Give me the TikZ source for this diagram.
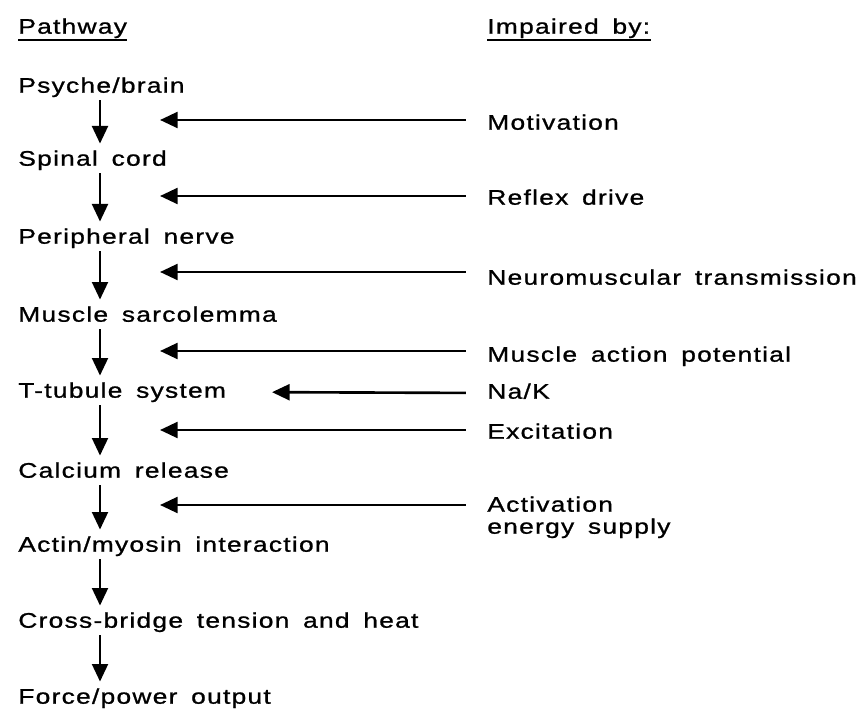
\documentclass[tikz,border=0pt]{standalone}
\usepackage{fontspec}
\setmainfont{Liberation Sans}[FakeStretch=1.25, LetterSpace=6, WordSpace=1.6, FakeBold=1]
\usetikzlibrary{arrows.meta}
\begin{document}
\begin{tikzpicture}[x=0.02cm, y=-0.02cm]
\tikzstyle{every node}=[anchor=west, inner sep=0pt, text height=9pt, text depth=2.5pt, font=\fontsize{12}{14}\selectfont]
\tikzstyle{flow}=[line width=1.5pt, -{Triangle[length=10pt, width=9pt]}]
\useasboundingbox (0,0) rectangle (859,709);
% headings
\node (PW) at (18, 28) {Pathway};
\node (IB) at (487, 28) {Impaired by:};
\draw [line width=1.2pt] ([yshift=-0.8pt]PW.south west) -- ([yshift=-0.8pt]PW.south east);
\draw [line width=1.2pt] ([yshift=-0.8pt]IB.south west) -- ([yshift=-0.8pt]IB.south east);
% pathway
\node (PB) at (18, 87) {Psyche/brain};
\node (SC) at (18, 160) {Spinal cord};
\node (PN) at (18, 238) {Peripheral nerve};
\node (MS) at (18, 316) {Muscle sarcolemma};
\node (TT) at (18, 392) {T-tubule system};
\node (CR) at (18, 472) {Calcium release};
\node (AM) at (18, 546) {Actin/myosin interaction};
\node (CB) at (18, 622) {Cross-bridge tension and heat};
\node (FP) at (18, 698) {Force/power output};
% impairments
\node (MO) at (487, 124) {Motivation};
\node (RD) at (487, 199) {Reflex drive};
\node (NT) at (487, 279) {Neuromuscular transmission};
\node (AP) at (487, 356) {Muscle action potential};
\node (NK) at (487, 393) {Na/K};
\node (EX) at (487, 433) {Excitation};
\node (AC) at (487, 506) {Activation};
\node (ES) at (487, 528) {energy supply};
% arrow ends
\coordinate (ax) at (100, 0);
\coordinate (t1) at (160, 120);
\coordinate (t2) at (160, 196);
\coordinate (t3) at (160, 272);
\coordinate (t4) at (160, 351);
\coordinate (t5) at (160, 430);
\coordinate (t6) at (160, 505);
\draw [flow, shorten <=1.7pt, shorten >=3.4pt] (PB.south -| ax) to (SC.north -| ax);
\draw [flow, shorten <=1.7pt, shorten >=3.4pt] (SC.south -| ax) to (PN.north -| ax);
\draw [flow, shorten <=1.7pt, shorten >=3.4pt] (PN.south -| ax) to (MS.north -| ax);
\draw [flow, shorten <=1.7pt, shorten >=3.4pt] (MS.south -| ax) to (TT.north -| ax);
\draw [flow, shorten <=1.7pt, shorten >=3.4pt] (TT.south -| ax) to (CR.north -| ax);
\draw [flow, shorten <=1.7pt, shorten >=3.4pt] (CR.south -| ax) to (AM.north -| ax);
\draw [flow, shorten <=1.7pt, shorten >=3.4pt] (AM.south -| ax) to (CB.north -| ax);
\draw [flow, shorten <=1.7pt, shorten >=3.4pt] (CB.south -| ax) to (FP.north -| ax);
\draw [flow, shorten <=12pt] (MO.west |- t1) to (t1);
\draw [flow, shorten <=12pt] (RD.west |- t2) to (t2);
\draw [flow, shorten <=12pt] (NT.west |- t3) to (t3);
\draw [flow, shorten <=12pt] (AP.west |- t4) to (t4);
\draw [flow, shorten <=12pt, shorten >=26pt] (NK.west) to (TT.east);
\draw [flow, shorten <=12pt] (EX.west |- t5) to (t5);
\draw [flow, shorten <=12pt] (AC.west |- t6) to (t6);
\end{tikzpicture}
\end{document}
